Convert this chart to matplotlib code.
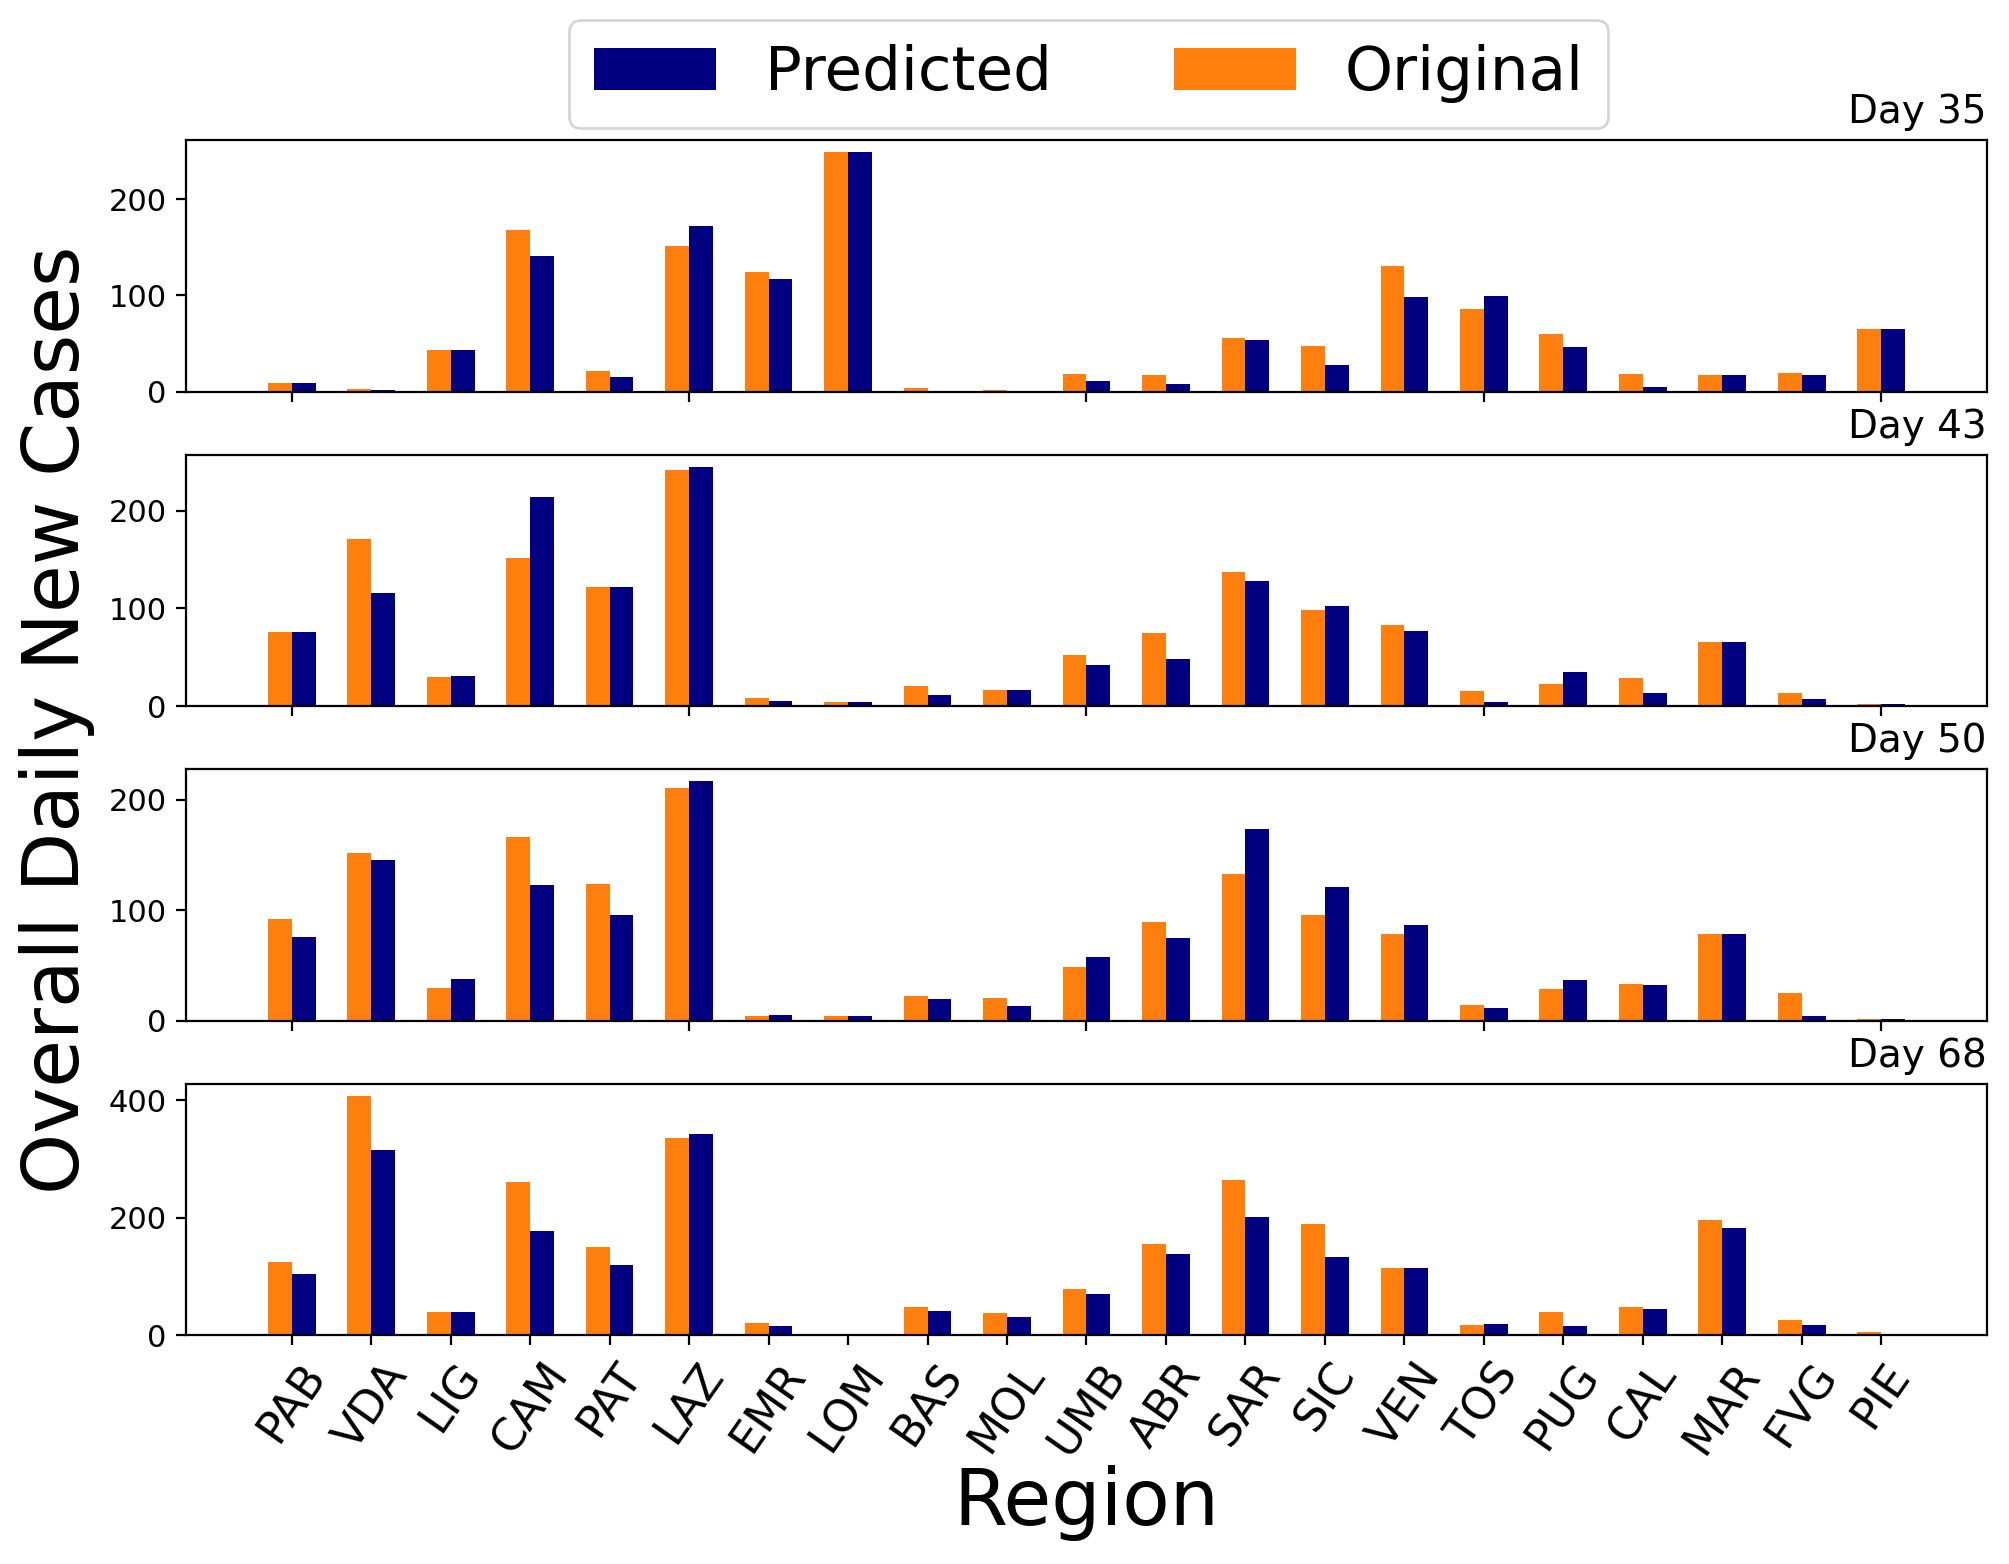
import numpy as np
import matplotlib
matplotlib.use('Agg')
import matplotlib.pyplot as plt

# regions on the x axis
regions = ['PAB', 'VDA', 'LIG', 'CAM', 'PAT', 'LAZ', 'EMR', 'LOM', 'BAS', 'MOL', 'UMB',
           'ABR', 'SAR', 'SIC', 'VEN', 'TOS', 'PUG', 'CAL', 'MAR', 'FVG', 'PIE']
days = [35, 43, 50, 68]

# original (observed) new cases per day
orig_35 = [9, 3, 43, 168, 21, 151, 124, 249, 4, 2, 18, 17, 56, 47, 131, 86, 60, 18, 17, 19, 65]
orig_43 = [76, 171, 30, 152, 122, 241, 8, 4, 21, 17, 52, 75, 137, 98, 83, 16, 23, 29, 66, 13, 2]
orig_50 = [92, 152, 30, 166, 124, 211, 4, 4, 22, 21, 49, 89, 133, 96, 79, 14, 29, 33, 79, 25, 2]
orig_68 = [125, 408, 40, 261, 151, 336, 21, 3, 48, 38, 79, 156, 264, 189, 115, 18, 40, 48, 197, 26, 6]

# predicted new cases per day
pred_35 = [9, 2, 43, 141, 15, 172, 117, 249, 0, 0, 11, 8, 54, 28, 98, 99, 46, 5, 17, 17, 65]
pred_43 = [76, 116, 31, 214, 122, 245, 5, 4, 11, 17, 42, 48, 128, 102, 77, 4, 35, 14, 66, 7, 2]
pred_50 = [76, 146, 38, 123, 96, 217, 5, 4, 20, 13, 58, 75, 174, 121, 87, 12, 37, 32, 79, 4, 2]
pred_68 = [105, 315, 40, 177, 119, 343, 16, 3, 42, 31, 71, 139, 201, 134, 115, 19, 16, 45, 182, 18, 3]

originals = [orig_35, orig_43, orig_50, orig_68]
predictions = [pred_35, pred_43, pred_50, pred_68]

width = 0.3
x = np.arange(len(regions))

fig, axes = plt.subplots(4, 1, figsize=(10.045, 7.82), dpi=200)
fig.subplots_adjust(left=0.0926, right=0.989, top=0.9105, bottom=0.1462, hspace=0.25)

for i, ax in enumerate(axes):
    b_orig = ax.bar(x - width / 2, originals[i], width, color='#ff7f0e', label='Original')
    b_pred = ax.bar(x + width / 2, predictions[i], width, color='navy', label='Predicted')
    ax.set_title('Day ' + str(days[i]), loc='right', fontsize=14)
    ax.tick_params(axis='y', labelsize=11)
    if i < 3:
        ax.tick_params(labelbottom=False)
    else:
        ax.set_xticks(x)
        ax.set_xticklabels(regions, rotation=55, fontsize=16)
        ax.set_xlabel('Region', fontsize=28, labelpad=1)

fig.text(0.0285, 0.540, 'Overall Daily New Cases', rotation=90, ha='center', va='center', fontsize=28)
fig.legend(handles=[b_pred, b_orig], labels=['Predicted', 'Original'], loc='center',
           bbox_to_anchor=(0.542, 0.9527), ncol=2, fontsize=22)

plt.savefig('out.png', dpi=200)
